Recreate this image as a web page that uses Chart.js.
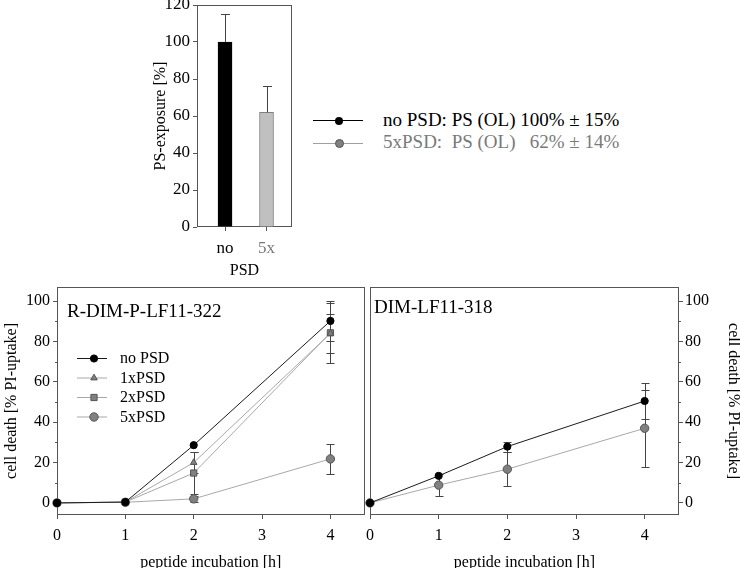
<!DOCTYPE html>
<html>
<head>
<meta charset="utf-8">
<script src="https://cdn.jsdelivr.net/npm/chart.js@4.4.0/dist/chart.umd.min.js"></script>
<style>
  body { margin: 0; background: #fff; font-family: "Liberation Serif", serif; }
  #wrap { position: relative; width: 740px; height: 568px; overflow: hidden; }
  canvas { position: absolute; }
  .txt { position: absolute; white-space: pre; line-height: 1; font-size: 19px; }
  .lline { position: absolute; height: 1px; width: 50px; left: 313px; }
  .ldot { position: absolute; border-radius: 50%; box-sizing: border-box; }
</style>
</head>
<body>
<div id="wrap">
  <canvas id="barChart" width="160" height="280" style="left:150px;top:0px"></canvas>
  <canvas id="rdimChart" width="370" height="292" style="left:0px;top:280px"></canvas>
  <canvas id="dimChart" width="382" height="292" style="left:362px;top:280px"></canvas>

  <div class="lline" style="top:120px;background:#000"></div>
  <div class="ldot" style="left:335px;top:117px;width:8px;height:8px;background:#000"></div>
  <div class="txt" style="left:383px;top:110px;color:#000">no PSD: PS (OL) 100% ± 15%</div>
  <div class="lline" style="top:143px;background:#a0a0a0"></div>
  <div class="ldot" style="left:335px;top:139px;width:9px;height:9px;background:#808080;border:1px solid #555"></div>
  <div class="txt" style="left:383px;top:132px;color:#7a7a7a">5xPSD:  PS (OL)   62% ± 14%</div>

  <div class="txt" style="left:67px;top:301px;color:#000">R-DIM-P-LF11-322</div>
  <div class="txt" style="left:374px;top:297px;color:#000">DIM-LF11-318</div>
</div>
<script>
// PS exposure bars
const barLabels = ['no', '5x'];
const barValues = [100, 62];
const barErrors = [15, 14];
const barTicks = [0, 20, 40, 60, 80, 100, 120];

// time course, shared axes
const hours = [0, 1, 2, 4];
const hourTicks = [0, 1, 2, 3, 4];
const deathTicks = [0, 20, 40, 60, 80, 100];
const deathMinor = [10, 30, 50, 70, 90];

// R-DIM-P-LF11-322
const rdimNoPSD = [0, 0.4, 28.6, 90.2];
const rdimNoPSDErr = [0, 0, 0, 10];
const rdim1xPSD = [0, 0.4, 20, 84];
const rdim1xPSDErr = [0, 0, 5, 9.5];
const rdim2xPSD = [0, 0.4, 14.8, 84.3];
const rdim2xPSDErr = [0, 0, 10.3, 15];
const rdim5xPSD = [0, 0.3, 2, 21.8];
const rdim5xPSDErr = [0, 0, 1.5, 7.6];

// DIM-LF11-318
const dimNoPSD = [0, 13.4, 27.9, 50.5];
const dimNoPSDErr = [0, 0, 2.5, 8.7];
const dim5xPSD = [0, 8.8, 16.7, 37];
const dim5xPSDErr = [0, 5.5, 8.5, 19];

const FONT = 'Liberation Serif';
const AXIS = '#555';

const toXY = (ys) => ys.map((y, i) => ({x: hours[i], y: y}));

// error bars drawn through the scales
const errorBars = {
  id: 'errorBars',
  afterDatasetsDraw(chart, args, opts) {
    if (opts.layer !== 'after') return;
    draw(chart, opts);
  },
  beforeDatasetsDraw(chart, args, opts) {
    if (opts.layer === 'after') return;
    draw(chart, opts);
  }
};
function draw(chart, opts) {
  const ctx = chart.ctx;
  const ys = chart.scales.y;
  ctx.save();
  ctx.strokeStyle = opts.color || '#444';
  ctx.lineWidth = 1;
  const cap = opts.cap || 4;
  chart.data.datasets.forEach((ds, i) => {
    if (!ds.errors) return;
    const meta = chart.getDatasetMeta(i);
    meta.data.forEach((el, j) => {
      const err = ds.errors[j];
      if (!err) return;
      const d = ds.data[j];
      const v = typeof d === 'object' ? d.y : d;
      const x = Math.round(el.x) + 0.5;
      const top = Math.round(ys.getPixelForValue(v + err)) + 0.5;
      const bot = opts.upOnly ? ys.getPixelForValue(v) : Math.round(ys.getPixelForValue(v - err)) + 0.5;
      ctx.beginPath();
      ctx.moveTo(x, top); ctx.lineTo(x, bot);
      ctx.moveTo(x - cap, top); ctx.lineTo(x + cap, top);
      if (!opts.upOnly) { ctx.moveTo(x - cap, bot); ctx.lineTo(x + cap, bot); }
      ctx.stroke();
    });
  });
  ctx.restore();
}

// closed frame round the plot area plus minor y ticks
const frame = {
  id: 'frame',
  beforeDatasetsDraw(chart, args, opts) {
    const {ctx, chartArea: a} = chart;
    ctx.save();
    ctx.strokeStyle = AXIS;
    ctx.lineWidth = 1;
    const l = Math.round(a.left) + 0.5, t = Math.round(a.top) + 0.5;
    const r = Math.round(a.right) - 0.5, b = Math.round(a.bottom) - 0.5;
    ctx.strokeRect(l, t, r - l, b - t);
    (opts.minor || []).forEach((v) => {
      const py = Math.round(chart.scales.y.getPixelForValue(v)) + 0.5;
      ctx.beginPath();
      if (opts.side === 'right') { ctx.moveTo(r, py); ctx.lineTo(r + 2.5, py); }
      else { ctx.moveTo(l, py); ctx.lineTo(l - 2.5, py); }
      ctx.stroke();
    });
    ctx.restore();
  }
};

// in-plot legend with line + marker
const lineLegend = {
  id: 'lineLegend',
  afterDraw(chart, args, opts) {
    if (!opts.show) return;
    const ctx = chart.ctx;
    ctx.save();
    chart.data.datasets.forEach((ds, i) => {
      const y = opts.y + i * opts.step;
      ctx.strokeStyle = ds.borderColor;
      ctx.lineWidth = 1;
      ctx.beginPath();
      ctx.moveTo(opts.x, y + 0.5); ctx.lineTo(opts.x + 30, y + 0.5);
      ctx.stroke();
      ctx.fillStyle = ds.pointBackgroundColor;
      ctx.strokeStyle = ds.pointBorderColor;
      Chart.helpers.drawPoint(ctx, {pointStyle: ds.pointStyle, radius: ds.pointRadius, borderWidth: 1, rotation: 0}, opts.x + 17, y + 0.5);
      ctx.fillStyle = '#000';
      ctx.font = '16px ' + FONT;
      ctx.textBaseline = 'middle';
      ctx.fillText(ds.label, opts.x + 43, y + 1);
    });
    ctx.restore();
  }
};

function series(label, ys, errs, kind) {
  const styles = {
    no:  {line: '#1a1a1a', fill: '#000', edge: '#000', shape: 'circle', r: 3.6},
    one: {line: '#a8a8a8', fill: '#808080', edge: '#555', shape: 'triangle', r: 3.8},
    two: {line: '#a8a8a8', fill: '#808080', edge: '#555', shape: 'rect', r: 4.4},
    five:{line: '#a8a8a8', fill: '#808080', edge: '#555', shape: 'circle', r: 4.2}
  }[kind];
  return {
    label: label,
    data: toXY(ys),
    errors: errs,
    borderColor: styles.line,
    borderWidth: 1,
    tension: 0,
    pointStyle: styles.shape,
    pointRadius: styles.r,
    pointHoverRadius: styles.r,
    pointBackgroundColor: styles.fill,
    pointBorderColor: styles.edge,
    pointBorderWidth: 1,
    clip: false
  };
}

const tickFont = {family: FONT, size: 16};
const titleFont = {family: FONT, size: 16};

function timeScales(side, yTitlePad) {
  return {
    x: {
      type: 'linear', min: 0, max: 4.5,
      afterBuildTicks: (s) => { s.ticks = hourTicks.map((v) => ({value: v})); },
      afterFit: (s) => { s.height = 57; s.paddingLeft = 0; s.paddingRight = 0; },
      grid: {drawOnChartArea: false, tickLength: 4, color: AXIS},
      border: {display: false},
      ticks: {font: tickFont, color: '#000', padding: 7, maxRotation: 0},
      title: {display: true, text: 'peptide incubation [h]', font: titleFont, color: '#000', padding: 0}
    },
    y: {
      position: side, min: -6, max: 107,
      afterBuildTicks: (s) => { s.ticks = deathTicks.map((v) => ({value: v})); },
      afterFit: (s) => { s.width = side === 'left' ? 57 : 65; s.paddingTop = 0; s.paddingBottom = 0; },
      grid: {drawOnChartArea: false, tickLength: 4, color: AXIS},
      border: {display: false},
      ticks: {font: tickFont, color: '#000', padding: side === 'left' ? 3 : 2},
      title: {display: true, text: 'cell death [% PI-uptake]', font: titleFont, color: '#000', padding: yTitlePad}
    }
  };
}

new Chart(document.getElementById('barChart'), {
  type: 'bar',
  data: {
    datasets: [{
      data: barValues.map((v, i) => ({x: i, y: v})),
      errors: barErrors,
      backgroundColor: ['#000', '#c0c0c0'],
      borderColor: ['#000', '#808080'],
      borderWidth: 1,
      barThickness: 14
    }]
  },
  options: {
    responsive: false, animation: false,
    layout: {padding: {top: 5, right: 18, left: 0, bottom: 0}},
    plugins: {legend: {display: false}, tooltip: {enabled: false},
      errorBars: {layer: 'after', upOnly: true, cap: 4.5}, frame: {}, lineLegend: {show: false}},
    scales: {
      x: {
        type: 'linear', min: -0.675, max: 1.614, offset: false,
        afterBuildTicks: (s) => { s.ticks = barLabels.map((l, i) => ({value: i})); },
        afterFit: (s) => { s.height = 53; s.paddingLeft = 0; s.paddingRight = 0; },
        grid: {drawOnChartArea: false, tickLength: 4, color: AXIS, offset: false},
        border: {display: false},
        ticks: {font: {family: FONT, size: 17}, padding: 7, maxRotation: 0,
          callback: (v) => barLabels[v],
          color: (c) => (c.index === 0 ? '#000' : '#777')},
        title: {display: true, text: 'PSD', font: titleFont, color: '#000', padding: 0}
      },
      y: {
        min: 0, max: 120,
        afterBuildTicks: (s) => { s.ticks = barTicks.map((v) => ({value: v})); },
        afterFit: (s) => { s.width = 47; s.paddingTop = 0; s.paddingBottom = 0; },
        grid: {drawOnChartArea: false, tickLength: 4, color: AXIS},
        border: {display: false},
        ticks: {font: {family: FONT, size: 17}, color: '#000', padding: 3},
        title: {display: true, text: 'PS-exposure [%]', font: titleFont, color: '#000', padding: 1}
      }
    }
  },
  plugins: [frame, errorBars]
});

new Chart(document.getElementById('rdimChart'), {
  type: 'line',
  data: {
    datasets: [
      series('no PSD', rdimNoPSD, rdimNoPSDErr, 'no'),
      series('1xPSD', rdim1xPSD, rdim1xPSDErr, 'one'),
      series('2xPSD', rdim2xPSD, rdim2xPSDErr, 'two'),
      series('5xPSD', rdim5xPSD, rdim5xPSDErr, 'five')
    ]
  },
  options: {
    responsive: false, animation: false,
    layout: {padding: {top: 7, right: 3, left: 0, bottom: 0}},
    plugins: {legend: {display: false}, tooltip: {enabled: false},
      errorBars: {layer: 'before', cap: 4}, frame: {minor: deathMinor, side: 'left'},
      lineLegend: {show: true, x: 77, y: 78, step: 19.5}},
    scales: timeScales('left', 2)
  },
  plugins: [frame, errorBars, lineLegend]
});

new Chart(document.getElementById('dimChart'), {
  type: 'line',
  data: {
    datasets: [
      series('no PSD', dimNoPSD, dimNoPSDErr, 'no'),
      series('5xPSD', dim5xPSD, dim5xPSDErr, 'five')
    ]
  },
  options: {
    responsive: false, animation: false,
    layout: {padding: {top: 7, right: 0, left: 8, bottom: 0}},
    plugins: {legend: {display: false}, tooltip: {enabled: false},
      errorBars: {layer: 'before', cap: 4}, frame: {minor: deathMinor, side: 'right'},
      lineLegend: {show: false}},
    scales: timeScales('right', 1)
  },
  plugins: [frame, errorBars, lineLegend]
});
</script>
</body>
</html>
